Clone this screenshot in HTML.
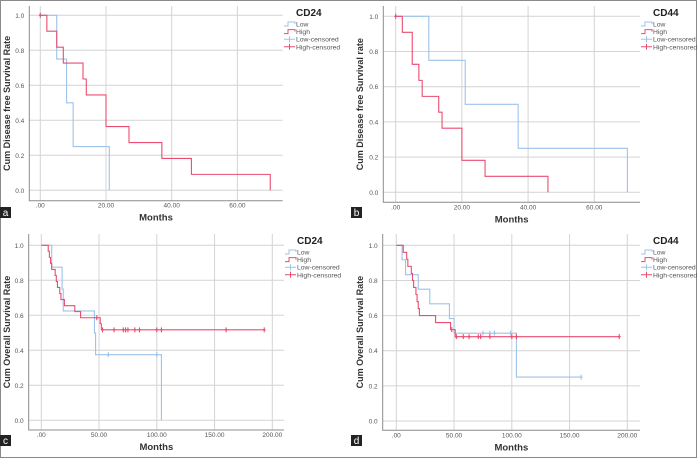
<!DOCTYPE html>
<html><head><meta charset="utf-8"><style>
html,body{margin:0;padding:0;background:#fff;}
svg{display:block;font-family:"Liberation Sans",sans-serif;}
</style></head><body>
<svg id="fig" width="697" height="458" viewBox="0 0 697 458">
<rect x="0.5" y="0.5" width="696" height="457" fill="#fff" stroke="#8a8a8a" stroke-width="1"/>
</svg>
<script>
// ---- Panel a: CD24 disease-free ----
const aLowTimes=[5,8,10,21];
const aLowSurv=[0.75,0.5,0.25,0];
const aLowCens=[];const aLowCensVal=[];
const aHighTimes=[2,5,7,13,14,20,27,37,46,70];
const aHighSurv=[0.909,0.818,0.727,0.636,0.545,0.364,0.273,0.182,0.091,0];
const aHighCens=[0];const aHighCensVal=[1];
const aTicks=[0,20,40,60];
const aTickLabels=[".00","20.00","40.00","60.00"];
// ---- Panel b: CD44 disease-free ----
const bLowTimes=[10,21,37,70];
const bLowSurv=[0.75,0.5,0.25,0];
const bLowCens=[];const bLowCensVal=[];
const bHighTimes=[2,5,7,8,13,14,20,27,46];
const bHighSurv=[0.909,0.727,0.636,0.545,0.455,0.364,0.182,0.091,0];
const bHighCens=[0];const bHighCensVal=[1];
const bTicks=[0,20,40,60];
const bTickLabels=[".00","20.00","40.00","60.00"];
// ---- Panel c: CD24 overall ----
const cLowTimes=[9,18,19,46,47,104];
const cLowSurv=[0.875,0.75,0.625,0.5,0.375,0];
const cLowCens=[58,100];const cLowCensVal=[0.375,0.375];
const cHighTimes=[6,7,8,9,12,13,14,16,17,20,29,34,51,52];
const cHighSurv=[0.966,0.931,0.897,0.862,0.828,0.793,0.759,0.724,0.690,0.655,0.621,0.586,0.552,0.517];
const cHighCens=[48,53,63,71,73,75,81,85,100,104,160,193];
const cHighCensVal=[0.586,0.517,0.517,0.517,0.517,0.517,0.517,0.517,0.517,0.517,0.517,0.517];
const cdTicks=[0,50,100,150,200];
const cdTickLabels=[".00","50.00","100.00","150.00","200.00"];
// ---- Panel d: CD44 overall ----
const dLowTimes=[5,8,19,29,46,50,104];
const dLowSurv=[0.917,0.833,0.75,0.667,0.583,0.5,0.25];
const dLowEnd=160;
const dLowCens=[75,81,85,99,160];const dLowCensVal=[0.5,0.5,0.5,0.5,0.25];
const dHighTimes=[6,9,10,13,14,15,17,18,19,20,34,47,51];
const dHighSurv=[0.96,0.92,0.88,0.84,0.80,0.76,0.72,0.68,0.64,0.60,0.56,0.52,0.48];
const dHighCens=[48,52,58,63,71,73,81,100,104,193];
const dHighCensVal=[0.52,0.48,0.48,0.48,0.48,0.48,0.48,0.48,0.48,0.48];
const yTicks=[0,0.2,0.4,0.6,0.8,1.0];
const yTickLabels=["0.0","0.2","0.4","0.6","0.8","1.0"];

const BLUE="#9dc3ea",RED="#ea4d70";
const svg=document.getElementById('fig');
const NS="http://www.w3.org/2000/svg";
function mk(tag,attrs,parent){const e=document.createElementNS(NS,tag);for(const k in attrs)e.setAttribute(k,attrs[k]);(parent||svg).appendChild(e);return e;}

const panels=[
 {id:'a',ox:0,oy:0,x0:40.3,xs:3.285,y1:15.3,y0:190.3,axL:29.3,axR:282.7,axB:200.7,top:6,ticks:aTicks,tl:aTickLabels,
  title:"Cum Disease free Survival Rate",leg:"CD24",legX:296,
  low:[aLowTimes,aLowSurv,null,aLowCens,aLowCensVal],high:[aHighTimes,aHighSurv,null,aHighCens,aHighCensVal]},
 {id:'b',ox:348,oy:0,x0:395.7,xs:3.31,y1:16.3,y0:192.3,axL:383.3,axR:640,axB:202.3,top:6,ticks:bTicks,tl:bTickLabels,
  title:"Cum Disease free Survival rate",leg:"CD44",legX:653,
  low:[bLowTimes,bLowSurv,null,bLowCens,bLowCensVal],high:[bHighTimes,bHighSurv,null,bHighCens,bHighCensVal]},
 {id:'c',ox:0,oy:228,x0:41.3,xs:1.155,y1:245.3,y0:420.3,axL:28.7,axR:284,axB:430,top:234,ticks:cdTicks,tl:cdTickLabels,
  title:"Cum Overall Survival Rate",leg:"CD24",legX:297,
  low:[cLowTimes,cLowSurv,null,cLowCens,cLowCensVal],high:[cHighTimes,cHighSurv,193,cHighCens,cHighCensVal]},
 {id:'d',ox:348,oy:228,x0:396.3,xs:1.155,y1:245.3,y0:421,axL:382.7,axR:640,axB:430.3,top:234,ticks:cdTicks,tl:cdTickLabels,
  title:"Cum Overall Survival Rate",leg:"CD44",legX:653,
  low:[dLowTimes,dLowSurv,dLowEnd,dLowCens,dLowCensVal],high:[dHighTimes,dHighSurv,193,dHighCens,dHighCensVal]}
];

panels.forEach(p=>{
 const g=mk('g',{});
 
 
 const X=t=>p.x0+t*p.xs, Y=v=>p.y0+(p.y1-p.y0)*v;
 yTicks.forEach((v,i)=>{
  const l=mk('line',{x1:p.axL,x2:p.axR,y1:Y(v),y2:Y(v),stroke:"#d4d4d4","stroke-width":1},g);
  
  
  const t=mk('text',{x:p.axL-5,y:Y(v)+2.5,"font-size":6.5,fill:"#555","text-anchor":"end"},g);
  t.textContent=yTickLabels[i];
  
  
 });
 p.ticks.forEach((v,i)=>{
  const l=mk('line',{x1:X(v),x2:X(v),y1:p.top,y2:p.axB,stroke:"#d4d4d4","stroke-width":1},g);
  
  
  const t=mk('text',{x:X(v),y:p.axB+7,"font-size":6.5,fill:"#555","text-anchor":"middle"},g);
  t.textContent=p.tl[i];
  
  
 });
 const ax=mk('path',{d:`M${p.axL},${p.top} V${p.axB} H${p.axR}`,fill:"none",stroke:"#8c8c8c","stroke-width":1},g);
 
 
 const xt=mk('text',{x:(p.axL+p.axR)/2,y:p.axB+20,"font-size":9.5,"font-weight":"bold",fill:"#333","text-anchor":"middle"},g);
 xt.textContent="Months";
 
 
 const cy=(p.top+p.axB)/2, cx=p.ox+(p.id==='a'||p.id==='c'?10:15);
 const yt=mk('text',{x:cx,y:cy,"font-size":9,"font-weight":"bold",fill:"#333","text-anchor":"middle",transform:`rotate(-90 ${cx} ${cy})`},g);
 yt.textContent=p.title;
 
 
 [['low',BLUE],['high',RED]].forEach(([k,col])=>{
  const [ts,ss,end,cs,cv]=p[k];
  let d=`M${X(0)},${Y(1)}`;
  ts.forEach((t,i)=>{d+=` H${X(t)} V${Y(ss[i])}`;});
  if(end!==null&&end!==undefined) d+=` H${X(end)}`;
  const path=mk('path',{d:d,fill:"none",stroke:col,"stroke-width":1.1},g);
  
  
  cs.forEach((t,i)=>{
   const x=X(t),y=Y(cv[i]);
   const m=mk('path',{d:`M${x},${y-2.5} V${y+2.5} M${x-1.5},${y} H${x+1.5}`,stroke:col,"stroke-width":1.1,fill:"none"},g);
   
   
  });
 });
 const lt=mk('text',{x:p.legX,y:p.oy+16,"font-size":10,"font-weight":"bold",fill:"#222"},g);
 lt.textContent=p.leg;
 
 
 const ents=[["Low",BLUE,0],["High",RED,0],["Low-censored",BLUE,1],["High-censored",RED,1]];
 ents.forEach((e,i)=>{
  const y=p.oy+24+i*7.6, x=p.legX-12;
  const gd=e[2]?`M${x},${y} H${x+11} M${x+5.5},${y-3} V${y+3}`:`M${x},${y+2} H${x+4} V${y-2} H${x+11} V${y}`;
  const s=mk('path',{d:gd,stroke:e[1],"stroke-width":1,fill:"none"},g);
  
  
  const t=mk('text',{x:p.legX,y:y+2.5,"font-size":6.8,fill:"#555"},g);
  t.textContent=e[0];
  
  
 });
 const bx=p.ox+(p.ox?3:0), by=p.oy+207;
 const r=mk('rect',{x:bx,y:by,width:11,height:11,fill:"#222"},g);
 
 
 const lb=mk('text',{x:bx+5.5,y:by+9,"font-size":10,fill:"#fff","text-anchor":"middle"},g);
 lb.textContent=p.id;
 
 
});
</script>
</body></html>
